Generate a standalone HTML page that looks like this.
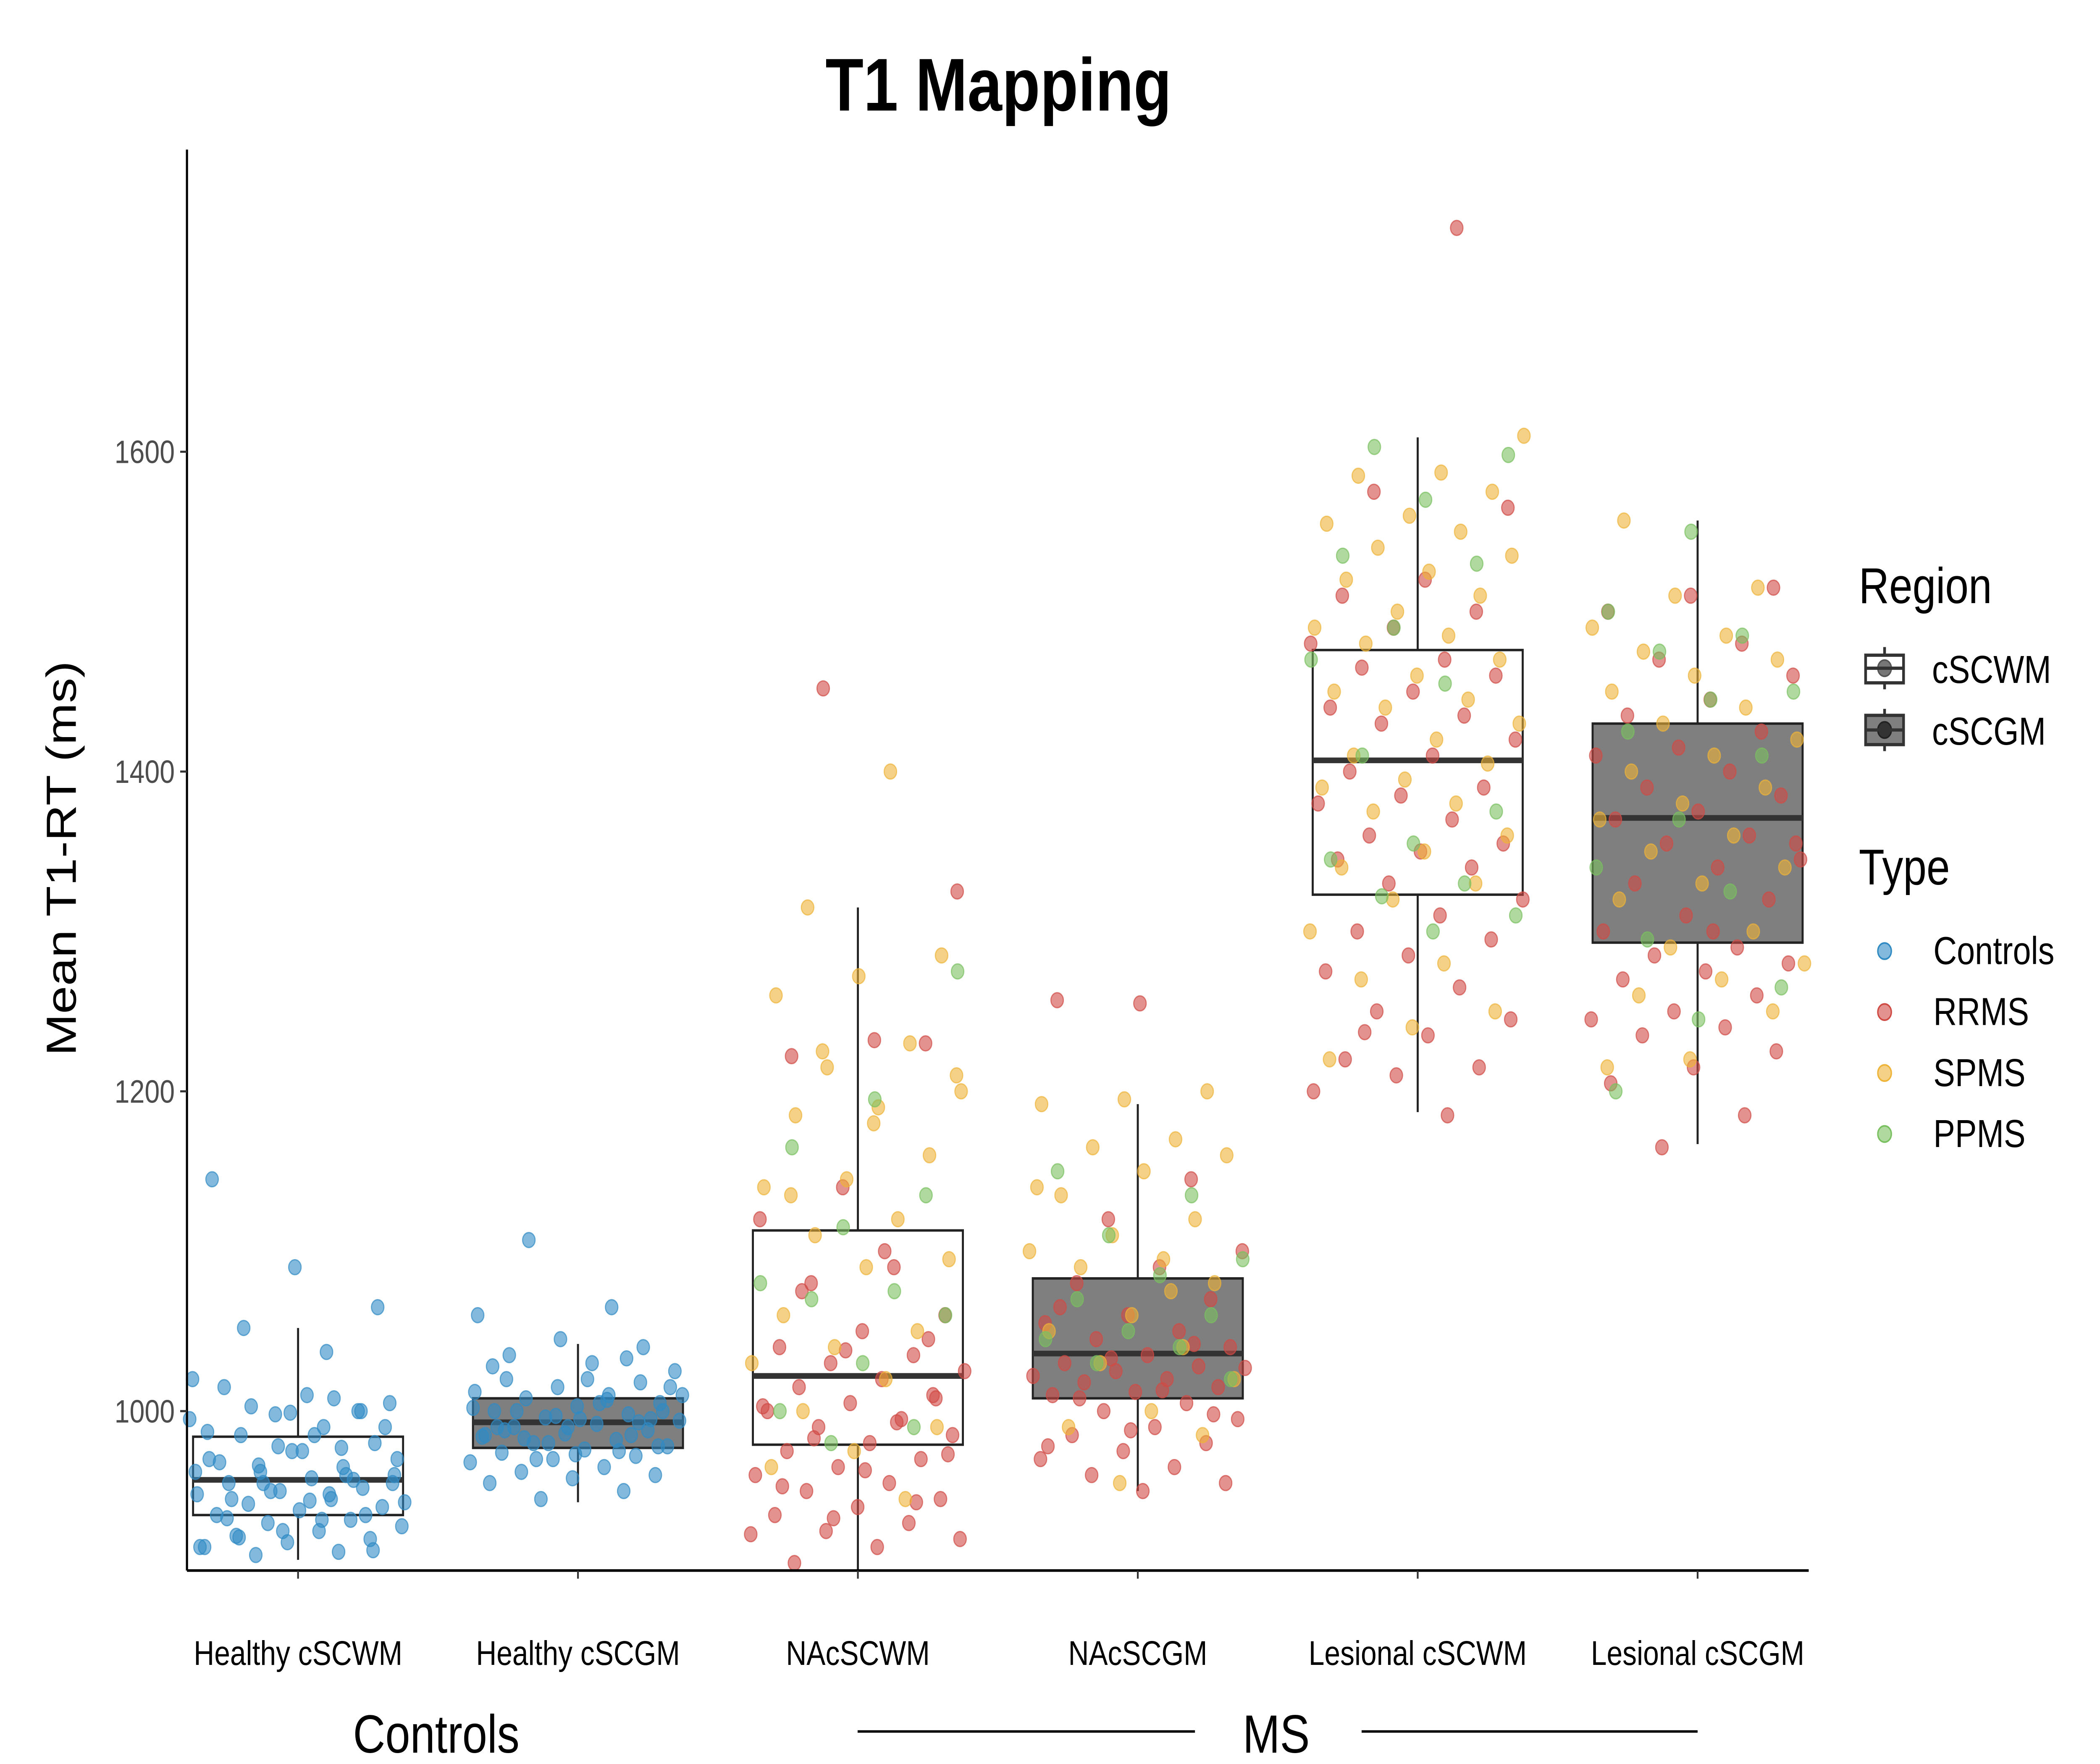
<!DOCTYPE html>
<html><head><meta charset="utf-8"><style>
html,body{margin:0;padding:0;background:#fff;overflow:hidden;width:100vw;height:100vh}
svg{display:block;width:100vw;height:100vh}
text{font-family:"Liberation Sans",Arial,sans-serif}
</style></head><body>
<svg id="chart" viewBox="0 0 1550 1085" preserveAspectRatio="none" xmlns="http://www.w3.org/2000/svg">
<rect width="1550" height="1085" fill="#fff"/>
<text x="737" y="68" font-size="46" font-weight="bold" text-anchor="middle">T1 Mapping</text>
<text transform="translate(56,528) rotate(-90)" font-size="31" text-anchor="middle">Mean T1-RT (ms)</text>
<g id="boxes"></g>
<g id="points"></g>
<g id="axes"></g>
<text x="322" y="1078" font-size="33" text-anchor="middle">Controls</text>
<text x="942" y="1078" font-size="33" text-anchor="middle">MS</text>
<line x1="633" x2="882" y1="1065" y2="1065" stroke="#000" stroke-width="1.5"/>
<line x1="1005" x2="1253" y1="1065" y2="1065" stroke="#000" stroke-width="1.5"/>
<g>
<text x="1372" y="371" font-size="31">Region</text>
<g>
<line x1="1391" x2="1391" y1="398" y2="424" stroke="#333" stroke-width="2"/>
<rect x="1377" y="403" width="28" height="17" fill="#fff" stroke="#333" stroke-width="2"/>
<circle cx="1391" cy="411" r="5" fill="#777" stroke="#555"/>
<line x1="1377" x2="1405" y1="411" y2="411" stroke="#333" stroke-width="2"/>
<text x="1426" y="420" font-size="24">cSCWM</text></g>
<g>
<line x1="1391" x2="1391" y1="436" y2="462" stroke="#333" stroke-width="2"/>
<rect x="1377" y="440" width="28" height="18" fill="#7f7f7f" stroke="#333" stroke-width="2"/>
<circle cx="1391" cy="449" r="5" fill="#333" stroke="#222"/>
<line x1="1377" x2="1405" y1="449" y2="449" stroke="#333" stroke-width="2"/>
<text x="1426" y="458" font-size="24">cSCGM</text></g>
<text x="1372" y="544" font-size="31">Type</text>
<g id="typeLegend"></g>
</g>
</svg>
<script>
const categories=["Healthy cSCWM","Healthy cSCGM","NAcSCWM","NAcSCGM","Lesional cSCWM","Lesional cSCGM"];
const boxStats=[
 {lo:907,q1:935,med:957,q3:984,hi:1052,fill:"#fff"},
 {lo:943,q1:977,med:993,q3:1008,hi:1042,fill:"#7f7f7f"},
 {lo:900,q1:979,med:1022,q3:1113,hi:1315,fill:"#fff"},
 {lo:950,q1:1008,med:1036,q3:1083,hi:1192,fill:"#7f7f7f"},
 {lo:1187,q1:1323,med:1407,q3:1476,hi:1609,fill:"#fff"},
 {lo:1167,q1:1293,med:1371,q3:1430,hi:1557,fill:"#7f7f7f"}];
const yTicks=[1000,1200,1400,1600];
const types=["Controls","RRMS","SPMS","PPMS"];
const typeColors=["#2f8ac4","#d04a44","#eeb337","#79c05f"];
const ctrlWM=[995,990,985,980,975,970,965,962,960,958,955,952,950,948,945,942,940,938,935,932,930,928,925,922,920,918,915,912,910,1005,1010,1015,1000,998,1020,1037,1052,1065,1090,1145,960,955,970,985,945,935,925,915,1008,1003,990,975,968,957,950,943,932,921,913,999,987,977,966,955,944,933,1000,978,962,948];
const ctrlGM=[1020,1018,1015,1012,1010,1008,1005,1003,1000,998,996,994,992,990,988,986,984,982,980,978,976,974,972,970,968,965,962,960,958,955,950,945,1025,1030,1035,1040,1045,1060,1065,1107,1000,995,990,985,980,1010,1005,1000,995,990,985,975,970,1015,1020,988,993,997,1002,1007,983,978,973,1028,1033];
const naWM_R=[1452,1325,1232,1222,1230,1140,1120,1090,1080,1060,1050,1040,1035,1030,1025,1020,1015,1010,1005,1000,995,990,985,980,975,970,965,960,955,950,945,940,935,930,925,920,915,905,1045,1038,1003,993,983,973,963,953,943,933,923,1100,1075,1008];
const naWM_S=[1400,1315,1285,1272,1260,1230,1215,1200,1190,1185,1160,1145,1140,1120,1110,1095,1090,1060,1050,1040,1030,1020,1000,990,975,965,945,1225,1210,1180,1135];
const naWM_P=[1275,1195,1165,1135,1115,1080,1075,1070,1060,1030,1000,990,980];
const naGM_R=[1255,1257,1145,1120,1100,1090,1080,1070,1060,1055,1050,1045,1040,1035,1030,1028,1025,1022,1020,1018,1015,1012,1010,1005,1000,995,990,985,980,975,970,965,960,955,950,1065,1042,1033,1027,1013,1008,998,988,978];
const naGM_S=[1200,1195,1192,1170,1165,1160,1150,1135,1120,1110,1100,1095,1090,1080,1060,1050,1040,1030,1020,1000,990,985,955,1140,1075];
const naGM_P=[1150,1135,1110,1095,1085,1070,1060,1050,1045,1040,1030,1020];
const lesWM_R=[1740,1575,1565,1520,1510,1500,1490,1480,1470,1465,1460,1450,1440,1435,1430,1420,1410,1400,1390,1385,1380,1370,1360,1355,1350,1345,1340,1330,1320,1310,1300,1295,1285,1275,1265,1250,1245,1235,1220,1215,1210,1200,1185,1237];
const lesWM_S=[1610,1587,1585,1575,1560,1555,1550,1540,1535,1525,1520,1510,1500,1490,1485,1480,1470,1460,1450,1445,1440,1430,1420,1410,1405,1395,1390,1380,1375,1360,1350,1340,1330,1320,1300,1280,1270,1250,1240,1220];
const lesWM_P=[1603,1598,1570,1535,1530,1490,1470,1455,1410,1375,1355,1345,1330,1322,1310,1300];
const lesGM_R=[1515,1510,1500,1480,1470,1460,1445,1435,1425,1415,1410,1400,1390,1385,1375,1370,1360,1355,1345,1340,1330,1320,1310,1300,1290,1285,1280,1275,1270,1260,1250,1245,1240,1235,1225,1215,1205,1185,1165,1355,1300];
const lesGM_S=[1557,1515,1510,1490,1485,1475,1470,1460,1450,1440,1430,1420,1410,1400,1390,1380,1370,1360,1350,1340,1330,1320,1300,1290,1280,1270,1260,1250,1220,1215];
const lesGM_P=[1550,1500,1485,1475,1450,1445,1425,1410,1370,1340,1325,1295,1265,1245,1200];

const NS="http://www.w3.org/2000/svg";
const X0=138,X1=1335,Ytop=92,Ybot=966;
const yMin=900.3,yMax=1789;
function yS(v){return Ybot-(v-yMin)/(yMax-yMin)*(Ybot-Ytop);}
function xS(i){return 220+i*206.6;}
function mk(tag,attrs,parent){const e=document.createElementNS(NS,tag);for(const k in attrs)e.setAttribute(k,attrs[k]);parent.appendChild(e);return e;}
const gB=document.getElementById('boxes'),gP=document.getElementById('points'),gA=document.getElementById('axes');
const bw=155;
boxStats.forEach((b,i)=>{
 const g=mk('g',{},gB);
 
 
 const c=xS(i);
 mk('line',{x1:c,x2:c,y1:yS(b.hi),y2:Math.min(Ybot,yS(b.lo)),stroke:'#222','stroke-width':1.5},g);
 mk('rect',{x:c-bw/2,y:yS(b.q3),width:bw,height:yS(b.q1)-yS(b.q3),fill:b.fill,stroke:'#222','stroke-width':1.5},g);
 mk('line',{x1:c-bw/2,x2:c+bw/2,y1:yS(b.med),y2:yS(b.med),stroke:'#333','stroke-width':3.5},g);
});
const groups=[[[ctrlWM,0]],[[ctrlGM,0]],[[naWM_R,1],[naWM_S,2],[naWM_P,3]],[[naGM_R,1],[naGM_S,2],[naGM_P,3]],[[lesWM_R,1],[lesWM_S,2],[lesWM_P,3]],[[lesGM_R,1],[lesGM_S,2],[lesGM_P,3]]];
groups.forEach((sets,i)=>{
 sets.forEach(([arr,t],k)=>{
  arr.forEach((v,j)=>{
   const jit=(((j*0.618034+k*0.31+i*0.17)%1)-0.5)*160;
   const c=mk('circle',{cx:xS(i)+jit,cy:yS(v),r:4.6,fill:typeColors[t],'fill-opacity':0.6,stroke:typeColors[t],'stroke-opacity':0.7,'stroke-width':0.8},gP);
   
   
  });
 });
});
let ax=mk('line',{x1:X0,x2:X0,y1:Ytop,y2:Ybot,stroke:'#000','stroke-width':1.6},gA);


ax=mk('line',{x1:X0,x2:X1,y1:Ybot,y2:Ybot,stroke:'#000','stroke-width':1.6},gA);


yTicks.forEach(v=>{
 mk('line',{x1:X0-5,x2:X0,y1:yS(v),y2:yS(v),stroke:'#333','stroke-width':1.3},gA);
 const t=mk('text',{x:X0-9,y:yS(v)+7,'font-size':20,'text-anchor':'end',fill:'#4d4d4d'},gA);
 t.textContent=v;
 
 
});
categories.forEach((c,i)=>{
 mk('line',{x1:xS(i),x2:xS(i),y1:Ybot,y2:Ybot+5,stroke:'#333','stroke-width':1.3},gA);
 const t=mk('text',{x:xS(i),y:1024,'font-size':21,'text-anchor':'middle',fill:'#000'},gA);
 t.textContent=c;
 
 
});
const tl=document.getElementById('typeLegend');
types.forEach((t,i)=>{
 const g=mk('g',{},tl);
 
 
 const y=585+i*37.5;
 mk('circle',{cx:1391,cy:y,r:5,fill:typeColors[i],'fill-opacity':0.6,stroke:typeColors[i]},g);
 const tx=mk('text',{x:1427,y:y+8,'font-size':24},g);
 tx.textContent=t;
});
</script>
</body></html>
